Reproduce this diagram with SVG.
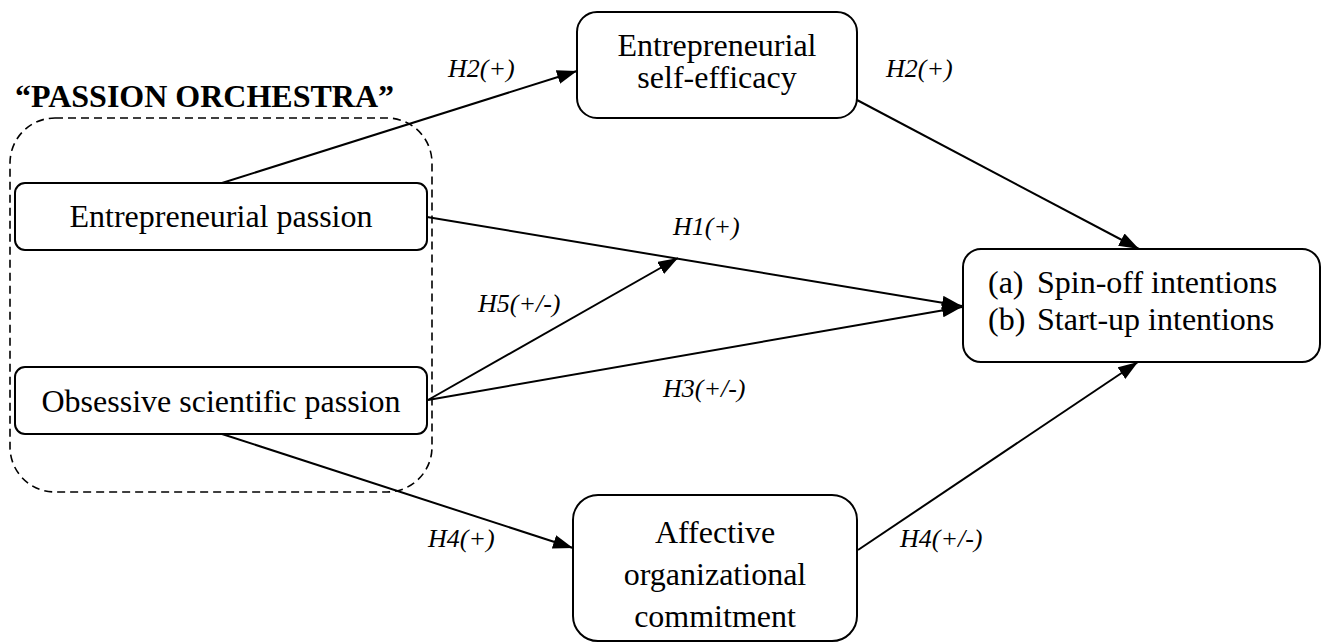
<svg xmlns="http://www.w3.org/2000/svg" width="1336" height="644" viewBox="0 0 1336 644">
<style>
.box{fill:#fff;stroke:#000;stroke-width:2}
.t{font-family:"Liberation Serif","Times New Roman",serif;font-size:32px;fill:#000}
.c{text-anchor:middle}
.lab{font-family:"Liberation Serif","Times New Roman",serif;font-size:26px;font-style:italic;fill:#000}
.ln{stroke:#000;stroke-width:2;fill:none;marker-end:url(#ah)}
</style>
<defs>
<marker id="ah" markerUnits="userSpaceOnUse" markerWidth="22" markerHeight="16" refX="20" refY="7" orient="auto">
<path d="M0,0 L20,7 L0,14 z" fill="#000"/>
</marker>
</defs>
<rect width="1336" height="644" fill="#fff"/>
<g id="group-passion-orchestra">
<rect x="10" y="118" width="422" height="374" rx="45" ry="45" fill="none" stroke="#000" stroke-width="1.6" stroke-dasharray="8 5"/>
<text x="15" y="107" font-family="Liberation Serif, Times New Roman, serif" font-size="32" font-weight="bold">“PASSION ORCHESTRA”</text>
</g>
<g id="connectors">
<line class="ln" x1="222" y1="183" x2="577" y2="71"/>
<line class="ln" x1="857" y1="100" x2="1139" y2="249"/>
<line class="ln" x1="427" y1="217" x2="962" y2="306"/>
<line class="ln" x1="428" y1="400" x2="678" y2="258"/>
<line class="ln" x1="428" y1="400" x2="962" y2="307"/>
<line class="ln" x1="222" y1="434" x2="573" y2="548"/>
<line class="ln" x1="858" y1="550" x2="1138" y2="362"/>
</g>
<g id="labels">
<text class="lab" x="448" y="77">H2(+)</text>
<text class="lab" x="886" y="77">H2(+)</text>
<text class="lab" x="673" y="235">H1(+)</text>
<text class="lab" x="478" y="312">H5(+/-)</text>
<text class="lab" x="663" y="397">H3(+/-)</text>
<text class="lab" x="428" y="547">H4(+)</text>
<text class="lab" x="900" y="547">H4(+/-)</text>
</g>
<g id="node-entrepreneurial-passion">
<rect class="box" x="15" y="183" width="412" height="67" rx="10"/>
<text class="t c" x="221" y="227">Entrepreneurial passion</text>
</g>
<g id="node-obsessive-scientific-passion">
<rect class="box" x="15" y="367" width="412" height="67" rx="10"/>
<text class="t c" x="221" y="412">Obsessive scientific passion</text>
</g>
<g id="node-self-efficacy">
<rect class="box" x="577" y="12" width="280" height="106" rx="20"/>
<text class="t c" x="717" y="56">Entrepreneurial</text>
<text class="t c" x="717" y="88">self-efficacy</text>
</g>
<g id="node-intentions">
<rect class="box" x="963" y="249" width="357" height="113" rx="18"/>
<text class="t" x="988" y="293">(a)</text>
<text class="t" x="1037" y="293">Spin-off intentions</text>
<text class="t" x="988" y="330">(b)</text>
<text class="t" x="1037" y="330">Start-up intentions</text>
</g>
<g id="node-affective-commitment">
<rect class="box" x="573" y="495" width="284" height="146" rx="25"/>
<text class="t c" x="715" y="543">Affective</text>
<text class="t c" x="715" y="585">organizational</text>
<text class="t c" x="715" y="627">commitment</text>
</g>
</svg>
